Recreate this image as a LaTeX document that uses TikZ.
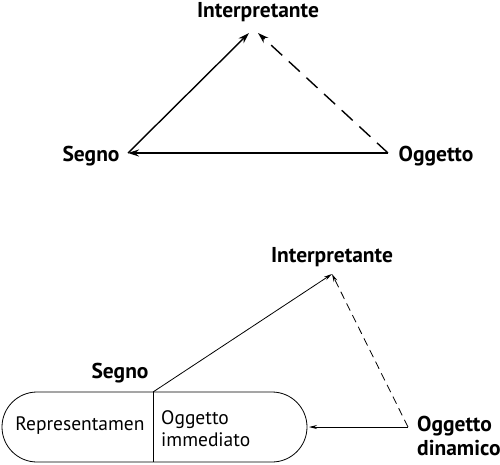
\documentclass[tikz,border=0pt]{standalone}
\usepackage{fontspec}
\setmainfont{PT Sans}
\usetikzlibrary{arrows.meta}
\begin{document}
\begin{tikzpicture}[x=1pt,y=-1pt,
  lbl/.style={font=\fontsize{21.5}{24}\selectfont\bfseries, inner sep=0pt},
  txt/.style={font=\fontsize{19.5}{22}\selectfont, inner sep=0pt},
  thick1/.style={line width=1.4pt},
  thin1/.style={line width=0.8pt},
  big/.style={-{Stealth[length=11pt,width=7pt]}},
  small/.style={-{Stealth[length=8pt,width=4pt]}}]
\useasboundingbox (0,0) rectangle (500,464);
% top triangle
\node[lbl] (i1) at (258,12) {Interpretante};
\node[lbl] (s1) at (91,156) {Segno};
\node[lbl] (o1) at (436,156) {Oggetto};
\coordinate (ia) at (249,33);
\coordinate (ib) at (258,33);
\coordinate (sa) at (128,153);
\coordinate (oa) at (388,153);
\draw[thick1,big] (sa) -- (ia);
\draw[thick1,big,dash pattern=on 15pt off 9pt] (oa) -- (ib);
\draw[thick1,big] (oa) -- (sa);
% bottom
\node[lbl] (i2) at (332,257) {Interpretante};
\node[lbl] (s2) at (120,373) {Segno};
\draw[thin1,rounded corners=35pt] (2,392) rectangle (307,462);
\coordinate (div) at (153,392);
\draw[thin1] (div) -- (153,462);
\node[txt] (rep) at (80,426) {Representamen};
\node[txt,align=left,anchor=west] (oi) at (161,429) {Oggetto\\immediato};
\node[lbl,align=left,anchor=west] (od) at (417,436) {Oggetto\\dinamico};
\coordinate (ip) at (332,274);
\coordinate (dy) at (408,427);
\coordinate (box) at (309,427);
\draw[thin1,small] (div) -- (ip);
\draw[thin1,small,dash pattern=on 8pt off 5pt] (dy) -- (ip);
\draw[thin1,small] (dy) -- (box);
\end{tikzpicture}
\end{document}
